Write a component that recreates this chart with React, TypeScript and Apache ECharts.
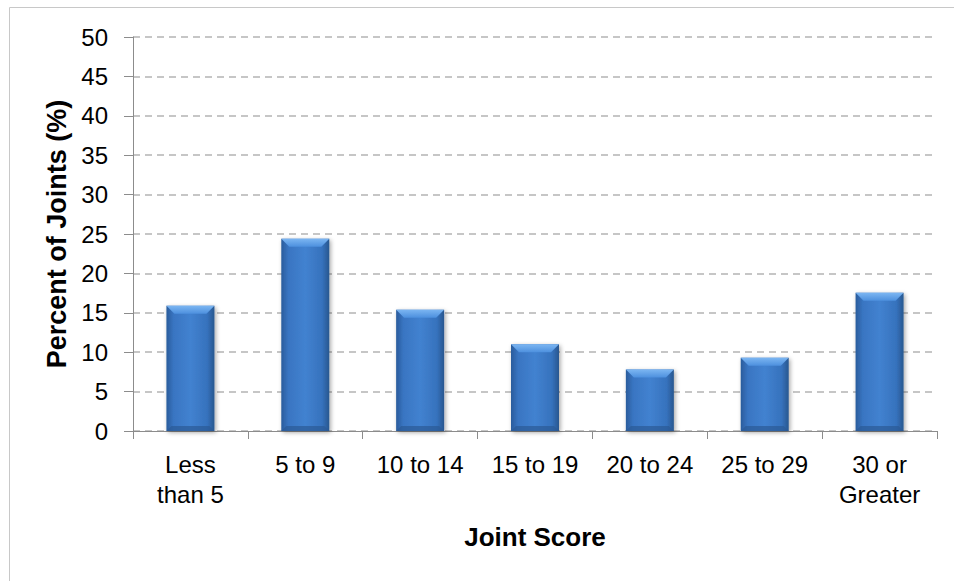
import React, { useEffect, useRef } from "react";
import * as echarts from "echarts";

const categories = ["Less\nthan 5", "5 to 9", "10 to 14", "15 to 19", "20 to 24", "25 to 29", "30 or\nGreater"];
const percentValues = [15.9, 24.4, 15.4, 11.0, 7.8, 9.3, 17.55];
const yAxisTitle = "Percent of Joints (%)";
const xAxisTitle = "Joint Score";

export default function App() {
  const ref = useRef<HTMLDivElement>(null);
  useEffect(() => {
    document.body.style.margin = "0";
    const chart = echarts.init(ref.current!, null, { renderer: "svg" });
    const font = "'Liberation Sans', Arial, sans-serif";
    const barW = 48;
    const bevel = 8;
    const bodyFill = new echarts.graphic.LinearGradient(0, 0, 1, 0, [
      { offset: 0, color: "#2a5c9c" },
      { offset: 0.15, color: "#3975c2" },
      { offset: 0.5, color: "#4282d0" },
      { offset: 0.85, color: "#3672bd" },
      { offset: 1, color: "#28578f" },
    ]);
    chart.setOption({
      animation: false,
      backgroundColor: "#ffffff",
      graphic: [
        {
          type: "rect",
          shape: { x: 9.5, y: 7.5, width: 1000, height: 700 },
          style: { fill: "none", stroke: "#c8c8c8", lineWidth: 1 },
          silent: true,
        },
      ],
      grid: { left: 133, right: 17, top: 37, bottom: 150 },
      xAxis: {
        type: "category",
        data: categories,
        name: xAxisTitle,
        nameLocation: "middle",
        nameGap: 93,
        nameTextStyle: { fontFamily: font, fontSize: 26, fontWeight: "bold", color: "#000" },
        axisLine: { lineStyle: { color: "#8c8c8c", width: 1 } },
        axisTick: { show: true, length: 8, alignWithLabel: false, lineStyle: { color: "#8c8c8c" } },
        axisLabel: { fontFamily: font, fontSize: 24, color: "#000", margin: 18, lineHeight: 30, interval: 0 },
      },
      yAxis: {
        type: "value",
        min: 0,
        max: 50,
        interval: 5,
        name: yAxisTitle,
        nameLocation: "middle",
        nameGap: 61,
        nameTextStyle: { fontFamily: font, fontSize: 27, fontWeight: "bold", color: "#000" },
        axisLine: { show: true, lineStyle: { color: "#8c8c8c", width: 1 } },
        axisTick: { show: true, length: 9, lineStyle: { color: "#8c8c8c" } },
        axisLabel: { fontFamily: font, fontSize: 24, color: "#000", margin: 25 },
        splitLine: { show: true, lineStyle: { color: "#b4b4b4", type: [7, 5], width: 1.5 } },
      },
      series: [
        {
          type: "custom",
          data: percentValues.map((v, i) => [i, v]),
          encode: { x: 0, y: 1 },
          renderItem: (params: any, api: any) => {
            const idx = api.value(0);
            const val = api.value(1);
            const top = api.coord([idx, val]);
            const base = api.coord([idx, 0]);
            const x0 = top[0] - barW / 2;
            const x1 = top[0] + barW / 2;
            const y0 = top[1];
            const y1 = base[1];
            return {
              type: "group",
              children: [
                {
                  type: "rect",
                  shape: { x: x0, y: y0, width: barW, height: y1 - y0 },
                  style: {
                    fill: bodyFill,
                    shadowColor: "rgba(0,0,0,0.35)",
                    shadowBlur: 4,
                    shadowOffsetX: 1.5,
                    shadowOffsetY: 1.5,
                  },
                },
                {
                  type: "polygon",
                  shape: {
                    points: [
                      [x0, y0],
                      [x1, y0],
                      [x1 - bevel, y0 + bevel],
                      [x0 + bevel, y0 + bevel],
                    ],
                  },
                  style: {
                    fill: new echarts.graphic.LinearGradient(0, 0, 0, 1, [
                      { offset: 0, color: "#7cb6f2" },
                      { offset: 1, color: "#4d90de" },
                    ]),
                  },
                },
                {
                  type: "polygon",
                  shape: {
                    points: [
                      [x0, y1],
                      [x1, y1],
                      [x1 - 5, y1 - 5],
                      [x0 + 5, y1 - 5],
                    ],
                  },
                  style: { fill: "#2b5a95", opacity: 0.7 },
                },
              ],
            };
          },
        },
      ],
    });
    return () => chart.dispose();
  }, []);
  return <div ref={ref} style={{ width: 954, height: 581 }} />;
}
